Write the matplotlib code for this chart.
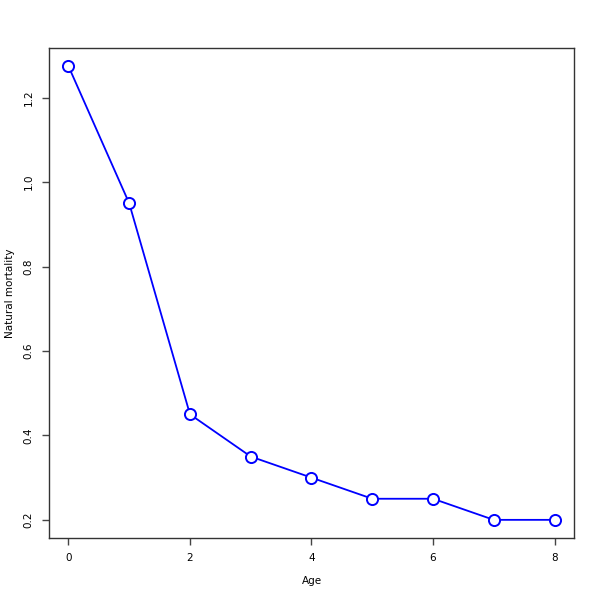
import matplotlib
matplotlib.use('Agg')
import matplotlib.pyplot as plt

# Natural mortality by age
ages = [0, 1, 2, 3, 4, 5, 6, 7, 8]
mortality = [1.275, 0.95, 0.45, 0.35, 0.30, 0.25, 0.25, 0.20, 0.20]
xticks = [0, 2, 4, 6, 8]
yticks = [0.2, 0.4, 0.6, 0.8, 1.0, 1.2]

fig = plt.figure(figsize=(6, 6), dpi=100)
ax = fig.add_axes([49/600, 62/600, 525/600, 490/600])

ax.plot(ages, mortality, '-o', color='blue', linewidth=1.3,
        markersize=8, markerfacecolor='white', markeredgecolor='blue',
        markeredgewidth=1.4, zorder=5)

xr = max(ages) - min(ages)
ax.set_xlim(min(ages) - 0.04 * xr, max(ages) + 0.04 * xr)
yr = max(mortality) - min(mortality)
ax.set_ylim(min(mortality) - 0.04 * yr, max(mortality) + 0.04 * yr)

ax.set_xticks(xticks)
ax.set_xticklabels([str(x) for x in xticks])
ax.set_yticks(yticks)
ax.set_yticklabels([f'{y:.1f}' for y in yticks], rotation=90, va='center')
ax.tick_params(axis='both', direction='out', length=5, width=1,
               labelsize=7.5, color='#444444', pad=6)

for s in ax.spines.values():
    s.set_color('#333333')
    s.set_linewidth(1)

ax.set_xlabel('Age', fontsize=7.5, labelpad=9)
ax.set_ylabel('Natural mortality', fontsize=7.5, labelpad=6)

fig.savefig('out.png', dpi=100)
